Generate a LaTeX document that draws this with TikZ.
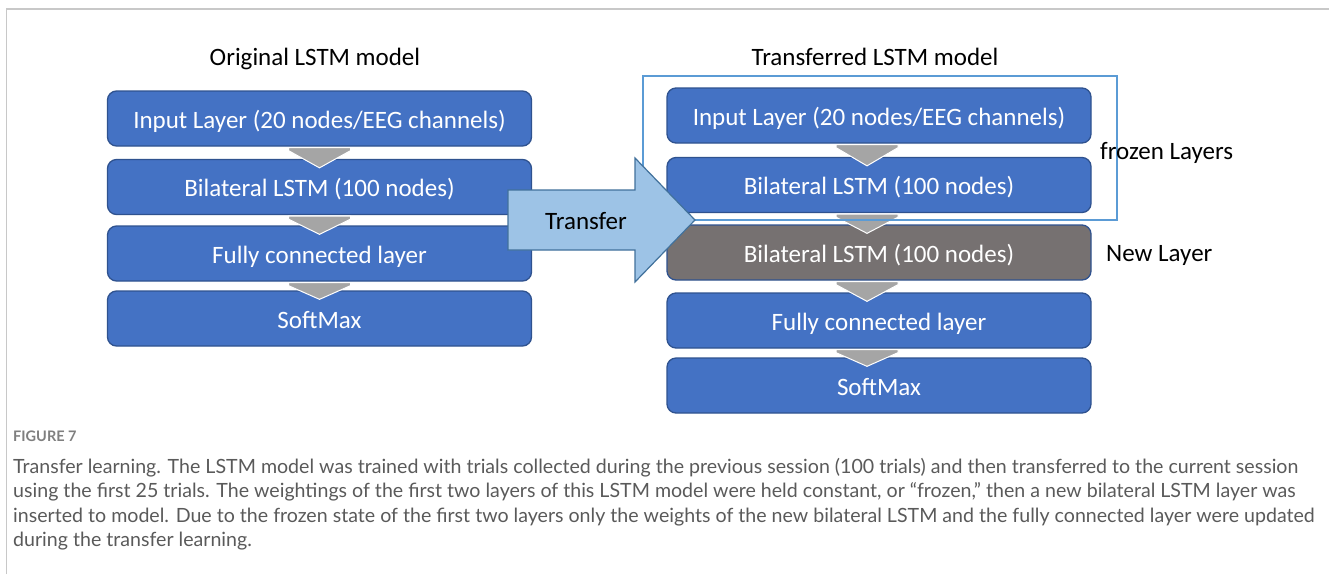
\documentclass[tikz,border=0pt]{standalone}
\usepackage{fontspec}
\setmainfont{Carlito}
\newfontfamily\capfont{Lato}
\usetikzlibrary{calc}
\definecolor{boxblue}{HTML}{4472C4}
\definecolor{boxedge}{HTML}{2F528F}
\definecolor{newgray}{HTML}{767171}
\definecolor{chevgray}{HTML}{A5A5A5}
\definecolor{arrowfill}{HTML}{9DC3E6}
\definecolor{arrowedge}{HTML}{41719C}
\definecolor{frozenblue}{HTML}{5B9BD5}
\definecolor{framegray}{HTML}{C8C8C8}
\definecolor{captext}{HTML}{5A5A5A}
\definecolor{capgray}{HTML}{7F7F7F}
\tikzset{
  layer/.style={draw=boxedge, line width=1.3pt, fill=boxblue, rounded corners=9pt,
    minimum width=424pt, minimum height=55pt, inner sep=0pt,
    text height=19pt, text depth=0pt,
    text=white, font=\fontsize{25}{28}\selectfont},
  newlayer/.style={layer, fill=newgray},
  title/.style={font=\fontsize{25}{28}\selectfont, text=black, inner sep=0pt},
  sidelabel/.style={font=\fontsize{25}{28}\selectfont, text=black, inner sep=0pt, anchor=west},
  chevron/.style={fill=chevgray, draw=white, line width=1pt},
  caption/.style={font=\capfont\fontsize{19.6}{22}\selectfont, text=captext, anchor=base west, inner sep=0pt}
}
\newcommand{\chev}[3]{%
  \path[chevron] let \p1=(#1.south), \p2=(#2.north) in
    (\x1+#3-31pt,\y1-1pt) -- (\x1+#3+31pt,\y1-1pt) -- (\x1+#3+31pt,\y1-4pt)
    -- (\x1+#3,\y2-9pt) -- (\x1+#3-31pt,\y1-4pt) -- cycle;}
\begin{document}
\begin{tikzpicture}[x=1pt,y=-1pt]
\useasboundingbox (0,0) rectangle (1329,574);
\fill[white] (0,0) rectangle (1329,574);
% panel frame
\draw[framegray, line width=1.5pt] (6.5,574) -- (6.5,9) -- (1329,9);

% titles
\node[title] (t1) at (315,59) {Original LSTM model};
\node[title] (t2) at (875,57) {Transferred LSTM model};

% left model
\node[layer] (a1) at (319.5,118.5) {Input Layer (20 nodes/EEG channels)};
\node[layer] (a2) at (319.5,187) {Bilateral LSTM (100 nodes)};
\node[layer] (a3) at (319.5,253.5) {Fully connected layer};
\node[layer] (a4) at (319.5,318.5) {SoftMax};
\chev{a1}{a2}{0pt}
\chev{a2}{a3}{0pt}
\chev{a3}{a4}{0pt}

% right model
\node[layer] (b1) at (879,115.5) {Input Layer (20 nodes/EEG channels)};
\node[layer] (b2) at (879,185) {Bilateral LSTM (100 nodes)};
\node[newlayer] (b3) at (879,252.5) {Bilateral LSTM (100 nodes)};
\node[layer] (b4) at (879,320.5) {Fully connected layer};
\node[layer] (b5) at (879,385.5) {SoftMax};
\chev{b1}{b2}{-12pt}
\chev{b2}{b3}{-12pt}
\chev{b3}{b4}{-12pt}
\chev{b4}{b5}{-12pt}

% frozen frame
\node[draw=frozenblue, line width=1.2pt, minimum width=474pt, minimum height=144pt, inner sep=0pt] (fz) at (880,148) {};
\node[sidelabel] (fl) at (1100,153) {frozen Layers};
\node[sidelabel] (nl) at (1106,255) {New Layer};

% transfer arrow
\draw[fill=arrowfill, draw=arrowedge, line width=1.2pt, line join=miter]
  (508,190) -- (635,190) -- (635,158) -- (695,220) -- (635,282) -- (635,250) -- (508,250) -- cycle;
\node[title] (tr) at (586,221) {Transfer};

% caption
\node[font=\capfont\bfseries\fontsize{14.5}{16}\selectfont, text=capgray, anchor=base west, inner sep=0pt] (fig) at (13,441) {FIGURE 7};
\node[caption] (c1) at (13,473) {Transfer learning. The LSTM model was trained with trials collected during the previous session (100 trials) and then transferred to the current session};
\node[caption] (c2) at (13,497) {using the first 25 trials. The weightings of the first two layers of this LSTM model were held constant, or “frozen,” then a new bilateral LSTM layer was};
\node[caption] (c3) at (13,522) {inserted to model. Due to the frozen state of the first two layers only the weights of the new bilateral LSTM and the fully connected layer were updated};
\node[caption] (c4) at (13,546) {during the transfer learning.};
\end{tikzpicture}
\end{document}
